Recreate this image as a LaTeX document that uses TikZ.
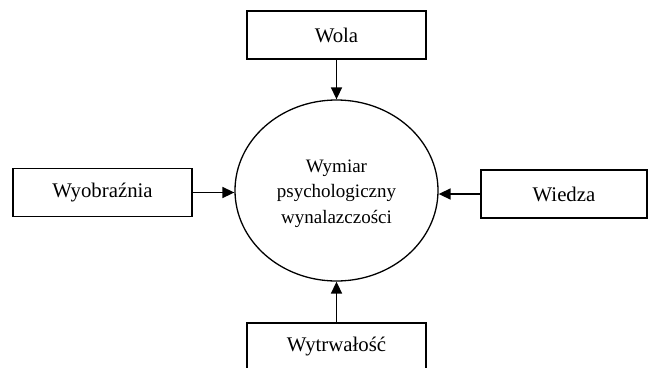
\documentclass[tikz,border=0pt]{standalone}
\usepackage{fontspec}
\setmainfont{Liberation Serif}
\usetikzlibrary{arrows.meta,shapes.geometric}
\begin{document}
\begin{tikzpicture}[x=1pt,y=-1pt,
  factor/.style={draw, line width=1.6pt, minimum width=179pt, minimum height=48pt,
    inner sep=0pt, font=\fontsize{20.8}{24}\selectfont},
  core/.style={draw, ellipse, line width=1.3pt, minimum width=203pt, minimum height=181pt,
    inner sep=0pt},
  coretext/.style={align=center, inner sep=0pt, font=\fontsize{19}{25.5}\selectfont},
  feed/.style={line width=1.6pt, -{Triangle[length=12pt,width=11pt]}}]
  \useasboundingbox (0,0) rectangle (648,367);
  \clip (0,0) rectangle (648,367);
  % central ellipse and its caption
  \node[core] (c) at (336.5,190.5) {};
  \node[coretext] (ct) at ([yshift=-3pt]c.center) {Wymiar\\psychologiczny\\wynalazczości};
  % surrounding factors
  \node[factor] (wola) at (336.5,35) {Wola};
  \node[factor] (wyo) at (102.5,192.5) {Wyobraźnia};
  \node[factor, minimum width=166pt] (wie) at (564,194) {Wiedza};
  \node[factor] (wyt) at (336.5,347) {Wytrwałość};
  % arrows into the ellipse
  \draw[feed] (wola.south) -- (c.north);
  \draw[feed] (wyo.east) -- (wyo.east -| c.west);
  \draw[feed] (wie.west) -- (wie.west -| c.east);
  \draw[feed] (wyt.north) -- (c.south);
\end{tikzpicture}
\end{document}
